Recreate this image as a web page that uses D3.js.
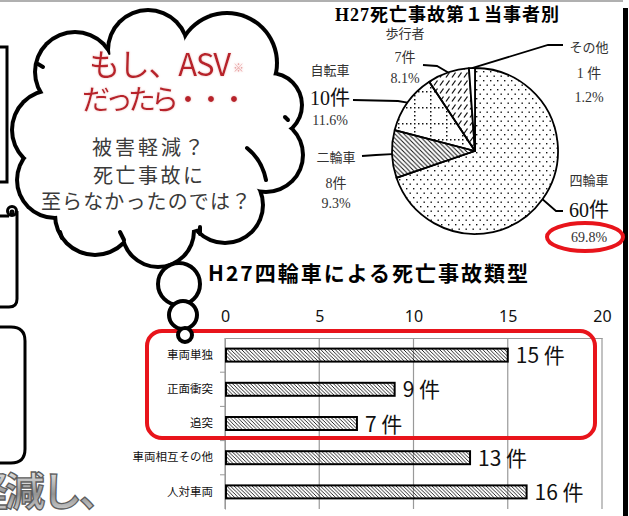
<!DOCTYPE html>
<html>
<head>
<meta charset="utf-8">
<script src="https://cdnjs.cloudflare.com/ajax/libs/d3/7.8.5/d3.min.js"></script>
<style>
  body { margin: 0; background: #fff; }
  svg { display: block; }
</style>
</head>
<body>
<svg id="chart"></svg>
<script>
// ---- data ----
const pieLabels = ["四輪車", "二輪車", "自転車", "歩行者", "その他"];
const pieCounts = [60, 8, 10, 7, 1];
const pieCountText = ["60件", "8件", "10件", "7件", "1 件"];
const piePercents = ["69.8%", "9.3%", "11.6%", "8.1%", "1.2%"];

const barCats = ["車両単独", "正面衝突", "追突", "車両相互その他", "人対車両"];
const barValues = [15, 9, 7, 13, 16];
const xTicks = [0, 5, 10, 15, 20];

const width = 629;
const height = 516;
const jp = "'Noto Sans CJK JP', 'Noto Sans', sans-serif";
const serif = "'Liberation Serif', 'DejaVu Serif', 'Noto Sans CJK JP', serif";

const svg = d3.select("#chart")
    .attr("width", width)
    .attr("height", height);

const defs = svg.append("defs");

// patterns
const dots = defs.append("pattern").attr("id", "dots")
    .attr("patternUnits", "userSpaceOnUse").attr("width", 7).attr("height", 9);
dots.append("rect").attr("x", 1).attr("y", 1).attr("width", 1.4).attr("height", 1.4).attr("fill", "#111");
dots.append("rect").attr("x", 4.5).attr("y", 5.5).attr("width", 1.4).attr("height", 1.4).attr("fill", "#111");

const hatchPie = defs.append("pattern").attr("id", "hatchPie")
    .attr("patternUnits", "userSpaceOnUse").attr("width", 4.5).attr("height", 4.5);
hatchPie.append("path").attr("d", "M0,0 L4.5,4.5 M-1,3.5 L1,5.5 M3.5,-1 L5.5,1")
    .attr("stroke", "#111").attr("stroke-width", 1);

const grid = defs.append("pattern").attr("id", "dotGrid")
    .attr("patternUnits", "userSpaceOnUse").attr("width", 16).attr("height", 16)
    .attr("x", 3).attr("y", 4);
grid.append("path").attr("d", "M0,0.75 H16 M0.75,0 V16")
    .attr("stroke", "#111").attr("stroke-width", 1.5).attr("stroke-dasharray", "1.5,2.5");

const slash = defs.append("pattern").attr("id", "slash")
    .attr("patternUnits", "userSpaceOnUse").attr("width", 6).attr("height", 8);
slash.append("path").attr("d", "M1,6.5 L4.5,1.5")
    .attr("stroke", "#111").attr("stroke-width", 1.3);

const hatchBar = defs.append("pattern").attr("id", "hatchBar")
    .attr("patternUnits", "userSpaceOnUse").attr("width", 3.6).attr("height", 3.6);
hatchBar.append("path").attr("d", "M0,0 L3.6,3.6 M-1,2.6 L1,4.6 M2.6,-1 L4.6,1")
    .attr("stroke", "#111").attr("stroke-width", 0.9);

const grad = defs.append("linearGradient").attr("id", "metal")
    .attr("gradientUnits", "userSpaceOnUse")
    .attr("x1", 0).attr("y1", 472).attr("x2", 0).attr("y2", 512);
grad.append("stop").attr("offset", "0%").attr("stop-color", "#dedede");
grad.append("stop").attr("offset", "55%").attr("stop-color", "#939393");
grad.append("stop").attr("offset", "100%").attr("stop-color", "#cfcfcf");

const glow = defs.append("filter").attr("id", "glow").attr("x", "-10%").attr("y", "-30%")
    .attr("width", "120%").attr("height", "160%");
glow.append("feGaussianBlur").attr("in", "SourceAlpha").attr("stdDeviation", 1.2).attr("result", "b");
glow.append("feFlood").attr("flood-color", "#f3c0c0");
glow.append("feComposite").attr("in2", "b").attr("operator", "in").attr("result", "g");
const gm = glow.append("feMerge");
gm.append("feMergeNode").attr("in", "g");
gm.append("feMergeNode").attr("in", "SourceGraphic");

// ---- page frame ----
svg.append("rect").attr("x", 0).attr("y", 0).attr("width", 623).attr("height", 2).attr("fill", "#b0b0b0");
svg.append("rect").attr("x", 623).attr("y", 8).attr("width", 5).attr("height", height).attr("fill", "#000");

// left side partial boxes
const side = svg.append("g").attr("fill", "none").attr("stroke", "#000").attr("stroke-width", 3);
side.append("path").attr("d", "M0,47 H7 V182 H0");
side.append("path").attr("d", "M0,216 H9 M17,211 V299 Q17,307 9,307 H0");
side.append("circle").attr("cx", 12).attr("cy", 211).attr("r", 4.5);
side.append("circle").attr("cx", 12).attr("cy", 212).attr("r", 1).attr("fill", "#000");
side.append("path").attr("d", "M0,327 H11 Q25,327 25,341 V449 Q25,463 11,463 H0");

// partly visible slogan
svg.append("text")
    .attr("x", -32).attr("y", 506)
    .attr("font-family", jp).attr("font-weight", 700).attr("font-size", 40)
    .attr("letter-spacing", -3)
    .attr("fill", "url(#metal)").attr("stroke", "#5e5e5e").attr("stroke-width", 1.3)
    .text("軽減し、");

// ---- thought cloud ----
const bumps = [[75, 72, 40], [148, 50, 40], [227, 63, 50], [270, 105, 32], [266, 155, 37],
               [225, 205, 38], [158, 231, 36], [95, 215, 40], [55, 180, 38], [52, 130, 40]];
const cloud = svg.append("g");
cloud.selectAll("circle.out").data(bumps).enter().append("circle")
    .attr("cx", d => d[0]).attr("cy", d => d[1]).attr("r", d => d[2] + 2).attr("fill", "#000");
cloud.selectAll("circle.in").data(bumps).enter().append("circle")
    .attr("cx", d => d[0]).attr("cy", d => d[1]).attr("r", d => d[2] - 2).attr("fill", "#fff");
cloud.append("ellipse").attr("cx", 158).attr("cy", 140).attr("rx", 110).attr("ry", 95).attr("fill", "#fff");
// inner arc strokes of the callout
cloud.append("g").attr("fill", "none").attr("stroke", "#000").attr("stroke-width", 4).attr("stroke-linecap", "round")
    .selectAll("path")
    .data(["M247,148 Q262,160 266,180", "M38,64 L43,67", "M285,117 L288,120", "M60,232 L62,238", "M120,232 L124,240", "M200,227 L200,234"])
    .enter().append("path").attr("d", d => d);

const redTxt = svg.append("g").attr("font-family", jp).attr("fill", "#b8232a").attr("filter", "url(#glow)");
redTxt.append("text").attr("x", 89).attr("y", 76).attr("font-size", 31)
    .attr("textLength", 142).attr("lengthAdjust", "spacing").text("もし、ASV");
redTxt.append("text").attr("x", 233).attr("y", 72).attr("font-size", 11).attr("fill", "#e7a0a0").text("※");
redTxt.append("text").attr("x", 82).attr("y", 110).attr("font-size", 28)
    .attr("textLength", 166).attr("lengthAdjust", "spacing").text("だったら・・・");

const grayTxt = svg.append("g").attr("font-family", jp).attr("fill", "#3a3a3a")
    .attr("font-size", 20).attr("text-anchor", "start");
[["被害軽減？", 92, 155, 112], ["死亡事故に", 93, 183, 110], ["至らなかったのでは？", 41, 209, 210]]
    .forEach(([t, x, y, w]) => {
        grayTxt.append("text").attr("x", x).attr("y", y)
            .attr("textLength", w).attr("lengthAdjust", "spacing").text(t);
    });

// ---- pie chart ----
const pieCx = 475, pieCy = 151, pieR = 83;
const pieFills = ["url(#dots)", "url(#hatchPie)", "url(#dotGrid)", "url(#slash)", "#fff"];
const pieData = d3.pie().sort(null)(pieCounts);
const arc = d3.arc().innerRadius(0).outerRadius(pieR);
const pieG = svg.append("g").attr("transform", `translate(${pieCx},${pieCy})`);
pieG.selectAll("path").data(pieData).enter().append("path")
    .attr("d", arc)
    .attr("fill", (d, i) => pieFills[i])
    .attr("stroke", "#000").attr("stroke-width", 1.8).attr("stroke-linejoin", "round");

svg.append("text").attr("x", 447).attr("y", 21)
    .attr("font-family", serif).attr("font-weight", "bold").attr("font-size", 18)
    .attr("text-anchor", "middle").attr("textLength", 224).attr("lengthAdjust", "spacing")
    .attr("fill", "#000").text("H27死亡事故第１当事者別");

// label layout: elbow, end of leader, text centre, text rows
const pieLayout = [
    { elbow: [556, 211], end: [563, 211], tx: 589, ty: [185, 217, 242], big: true },
    { elbow: [376, 155], end: [362, 156], tx: 336, ty: [162, 188, 208], big: false },
    { elbow: [398, 101], end: [353, 100], tx: 330, ty: [75, 105, 125], big: true },
    { elbow: [437, 66], end: [423, 65], tx: 405, ty: [38, 62, 83], big: false },
    { elbow: [548, 45], end: [563, 45], tx: 589, ty: [52, 78, 102], big: false }
];
const leaders = svg.append("g").attr("fill", "none").attr("stroke", "#000").attr("stroke-width", 1.8);
pieData.forEach((d, i) => {
    const a = (d.startAngle + d.endAngle) / 2;
    const sx = pieCx + pieR * Math.sin(a), sy = pieCy - pieR * Math.cos(a);
    const L = pieLayout[i];
    leaders.append("path").attr("d", `M${sx},${sy} L${L.elbow[0]},${L.elbow[1]} L${L.end[0]},${L.end[1]}`);
    const g = svg.append("g").attr("font-family", serif).attr("fill", "#333").attr("text-anchor", "middle");
    g.append("text").attr("x", L.tx).attr("y", L.ty[0]).attr("font-size", 13).text(pieLabels[i]);
    g.append("text").attr("x", L.tx).attr("y", L.ty[1]).attr("font-size", L.big ? 20 : 14)
        .attr("fill", L.big ? "#111" : "#333").text(pieCountText[i]);
    g.append("text").attr("x", L.tx).attr("y", L.ty[2]).attr("font-size", 14).text(piePercents[i]);
});
svg.append("ellipse").attr("cx", 585).attr("cy", 237).attr("rx", 38).attr("ry", 14)
    .attr("fill", "none").attr("stroke", "#e8141b").attr("stroke-width", 4);

// ---- bar chart ----
const x = d3.scaleLinear().domain([0, 20]).range([225, 602]);
const y = d3.scaleBand().domain(barCats).range([338, 509]);
const barH = 13;

svg.append("text").attr("x", 208).attr("y", 281)
    .attr("font-family", jp).attr("font-weight", "bold").attr("font-size", 21)
    .attr("textLength", 320).attr("lengthAdjust", "spacing")
    .attr("fill", "#000").text("H27四輪車による死亡事故類型");

const xAxis = svg.append("g").attr("transform", `translate(0,338)`)
    .call(d3.axisTop(x).tickValues(xTicks).tickSize(0).tickPadding(16));
xAxis.select(".domain").attr("stroke", "#999");
xAxis.selectAll("text").attr("font-family", "'Noto Sans', sans-serif").attr("font-size", 16).attr("fill", "#111");

svg.append("g").selectAll("line").data(xTicks).enter().append("line")
    .attr("x1", d => x(d)).attr("x2", d => x(d))
    .attr("y1", 338).attr("y2", 509)
    .attr("stroke", "#999").attr("stroke-width", 1.2);

const yAxis = svg.append("g").attr("transform", `translate(225,0)`)
    .call(d3.axisLeft(y).tickSize(0).tickPadding(12));
yAxis.select(".domain").attr("stroke", "#999");
yAxis.selectAll("text").attr("font-family", jp).attr("font-size", 11.5).attr("fill", "#111");
svg.append("g").selectAll("line").data(barCats.slice(1)).enter().append("line")
    .attr("x1", 220).attr("x2", 225)
    .attr("y1", d => y(d)).attr("y2", d => y(d))
    .attr("stroke", "#999");

svg.append("g").selectAll("rect").data(barValues).enter().append("rect")
    .attr("x", x(0) + 1)
    .attr("y", (d, i) => y(barCats[i]) + (y.bandwidth() - barH) / 2)
    .attr("width", d => x(d) - x(0) - 1)
    .attr("height", barH)
    .attr("fill", "url(#hatchBar)")
    .attr("stroke", "#000").attr("stroke-width", 2);

svg.append("g").selectAll("text").data(barValues).enter().append("text")
    .attr("x", d => x(d) + 8)
    .attr("y", (d, i) => y(barCats[i]) + y.bandwidth() / 2 + 8)
    .attr("font-family", jp).attr("font-size", 21).attr("fill", "#111")
    .text(d => d + " 件");

svg.append("rect").attr("x", 147).attr("y", 331).attr("width", 448).attr("height", 107)
    .attr("rx", 15).attr("fill", "none").attr("stroke", "#e8141b").attr("stroke-width", 4);

// thought bubbles
svg.append("g").attr("fill", "#fff").attr("stroke", "#000").attr("stroke-width", 4)
    .selectAll("circle").data([[179, 284, 21], [183, 315, 14], [185, 335, 7]])
    .enter().append("circle")
    .attr("cx", d => d[0]).attr("cy", d => d[1]).attr("r", d => d[2]);
</script>
</body>
</html>
